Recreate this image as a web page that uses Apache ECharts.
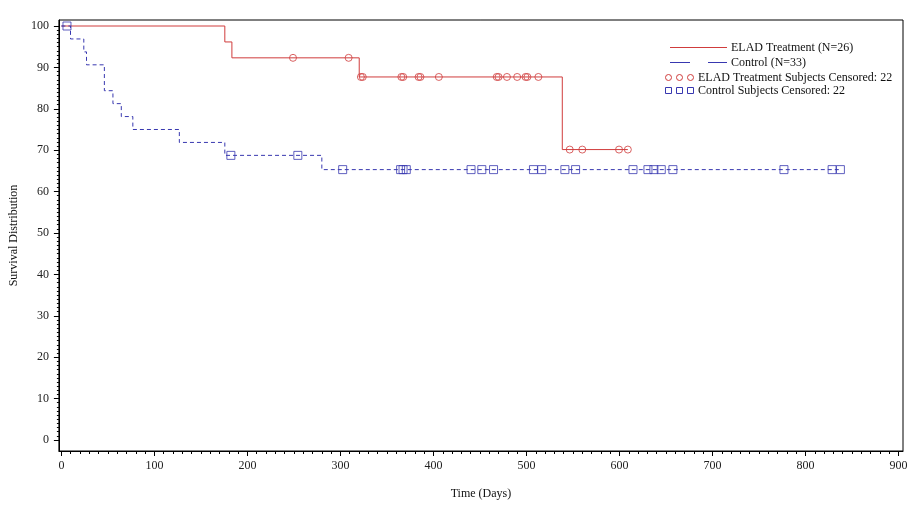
<!DOCTYPE html>
<html><head><meta charset="utf-8">
<script src="https://cdn.jsdelivr.net/npm/echarts@6/dist/echarts.min.js"></script>
<style>html,body{margin:0;padding:0;background:#fff}#c{width:911px;height:509px}</style>
</head><body><div id="c"></div>
<script>
// Kaplan-Meier step curves (time in days, survival %)
const eladTime = [0, 175.7, 183.3, 320.2, 538.5, 609];
const eladSurv = [100, 96.15, 92.31, 87.69, 70.15, 70.15];
const ctrlTime = [0, 9.8, 24.1, 27, 46.2, 55.4, 64.4, 76.8, 126.8, 175.7, 280, 837.5];
const ctrlSurv = [100, 96.875, 93.75, 90.625, 84.375, 81.25, 78.125, 75, 71.875, 68.75, 65.31, 65.31];
// Censored subjects
const eladCensTime = [249, 308.8, 322, 324, 365.5, 367.5, 384, 386, 405.8, 468, 470, 479, 490, 499, 501, 512.8, 546.5, 560, 599.5, 609];
const eladCensSurv = [92.31, 92.31, 87.69, 87.69, 87.69, 87.69, 87.69, 87.69, 87.69, 87.69, 87.69, 87.69, 87.69, 87.69, 87.69, 87.69, 70.15, 70.15, 70.15, 70.15];
const ctrlCensTime = [6, 182.2, 254.2, 302.4, 364.7, 367.3, 370.8, 440.4, 452, 464.6, 507.5, 516.4, 541.3, 552.8, 614.5, 630.6, 637, 644.9, 657.4, 776.8, 828.6, 837.5];
const ctrlCensSurv = [100, 68.75, 68.75, 65.31, 65.31, 65.31, 65.31, 65.31, 65.31, 65.31, 65.31, 65.31, 65.31, 65.31, 65.31, 65.31, 65.31, 65.31, 65.31, 65.31, 65.31, 65.31];
// Tick labels
const xTicks = [0, 100, 200, 300, 400, 500, 600, 700, 800, 900];
const yTicks = [0, 10, 20, 30, 40, 50, 60, 70, 80, 90, 100];
const xMinorTicks = Array.from({length: 91}, (_, i) => i * 10);
const yMinorTicks = Array.from({length: 101}, (_, i) => i);

const RED = '#d03c3c', BLUE = '#3838b0';
const FONT = '"Liberation Serif", "DejaVu Serif", serif';
const zip = (a, b) => a.map((v, i) => [v, b[i]]);

const chart = echarts.init(document.getElementById('c'), null, {renderer: 'canvas'});
const xMin = -2.68, xMax = 904.8, yMin = -2.66, yMax = 101.45;
chart.setOption({
  animation: false,
  backgroundColor: '#fff',
  grid: {left: 55, right: 8, top: 20, bottom: 58, show: true, borderColor: '#000', borderWidth: 1, backgroundColor: 'transparent'},
  xAxis: [
    {type: 'value', min: xMin, max: xMax, name: 'Time (Days)', nameLocation: 'middle', nameGap: 37,
     nameTextStyle: {fontFamily: FONT, fontSize: 12, color: '#111'},
     axisLine: {show: true, onZero: false, lineStyle: {color: '#000', width: 1}},
     axisTick: {show: true, inside: false, customValues: xTicks, length: 5, lineStyle: {color: '#000'}},
     axisLabel: {customValues: xTicks, fontFamily: FONT, fontSize: 12, color: '#222', margin: 9},
     splitLine: {show: false}},
    {type: 'value', min: xMin, max: xMax, position: 'bottom',
     axisLine: {show: false, onZero: false}, axisLabel: {show: false}, splitLine: {show: false},
     axisTick: {show: true, inside: false, customValues: xMinorTicks, length: 3, lineStyle: {color: '#000'}}}
  ],
  yAxis: [
    {type: 'value', min: yMin, max: yMax, name: 'Survival Distribution', nameLocation: 'middle', nameGap: 38,
     nameTextStyle: {fontFamily: FONT, fontSize: 12, color: '#111'},
     axisLine: {show: true, onZero: false, lineStyle: {color: '#000', width: 1}},
     axisTick: {show: true, inside: false, customValues: yTicks, length: 5, lineStyle: {color: '#000'}},
     axisLabel: {customValues: yTicks, fontFamily: FONT, fontSize: 12, color: '#222', margin: 10},
     splitLine: {show: false}},
    {type: 'value', min: yMin, max: yMax, position: 'left',
     axisLine: {show: false, onZero: false}, axisLabel: {show: false}, splitLine: {show: false},
     axisTick: {show: true, inside: false, customValues: yMinorTicks, length: 2, lineStyle: {color: '#000'}}}
  ],
  series: [
    {name: 'ELAD Treatment (N=26)', type: 'line', step: 'end', data: zip(eladTime, eladSurv),
     showSymbol: false, symbol: 'none', lineStyle: {color: RED, width: 1}, z: 2},
    {name: 'Control (N=33)', type: 'line', step: 'end', data: zip(ctrlTime, ctrlSurv),
     showSymbol: false, symbol: 'none', lineStyle: {color: BLUE, width: 1, type: [4, 3]}, z: 2},
    {name: 'ELAD Treatment Subjects Censored: 22', type: 'scatter', data: zip(eladCensTime, eladCensSurv),
     symbol: 'circle', symbolSize: 7, itemStyle: {color: 'rgba(255,255,255,0)', borderColor: RED, borderWidth: 1}, z: 3},
    {name: 'Control Subjects Censored: 22', type: 'scatter', data: zip(ctrlCensTime, ctrlCensSurv),
     symbol: 'rect', symbolSize: 8, itemStyle: {color: 'rgba(255,255,255,0)', borderColor: BLUE, borderWidth: 1}, z: 3}
  ],
  graphic: [
    {type: 'line', shape: {x1: 670, y1: 47.5, x2: 727, y2: 47.5}, style: {stroke: RED, lineWidth: 1}},
    {type: 'text', x: 731, y: 48, style: {text: 'ELAD Treatment (N=26)', font: '12px ' + FONT, fill: '#111', verticalAlign: 'middle'}},
    {type: 'line', shape: {x1: 670, y1: 62.5, x2: 690, y2: 62.5}, style: {stroke: BLUE, lineWidth: 1}},
    {type: 'line', shape: {x1: 708, y1: 62.5, x2: 727, y2: 62.5}, style: {stroke: BLUE, lineWidth: 1}},
    {type: 'text', x: 731, y: 63, style: {text: 'Control (N=33)', font: '12px ' + FONT, fill: '#111', verticalAlign: 'middle'}},
    {type: 'circle', shape: {cx: 668.5, cy: 77.5, r: 3}, style: {fill: 'none', stroke: RED, lineWidth: 1}},
    {type: 'circle', shape: {cx: 679.5, cy: 77.5, r: 3}, style: {fill: 'none', stroke: RED, lineWidth: 1}},
    {type: 'circle', shape: {cx: 690.5, cy: 77.5, r: 3}, style: {fill: 'none', stroke: RED, lineWidth: 1}},
    {type: 'text', x: 698, y: 78, style: {text: 'ELAD Treatment Subjects Censored: 22', font: '12px ' + FONT, fill: '#111', verticalAlign: 'middle'}},
    {type: 'rect', shape: {x: 665.5, y: 87.5, width: 6, height: 6}, style: {fill: 'none', stroke: BLUE, lineWidth: 1}},
    {type: 'rect', shape: {x: 676.5, y: 87.5, width: 6, height: 6}, style: {fill: 'none', stroke: BLUE, lineWidth: 1}},
    {type: 'rect', shape: {x: 687.5, y: 87.5, width: 6, height: 6}, style: {fill: 'none', stroke: BLUE, lineWidth: 1}},
    {type: 'text', x: 698, y: 91, style: {text: 'Control Subjects Censored: 22', font: '12px ' + FONT, fill: '#111', verticalAlign: 'middle'}}
  ]
});
</script>
</body></html>
